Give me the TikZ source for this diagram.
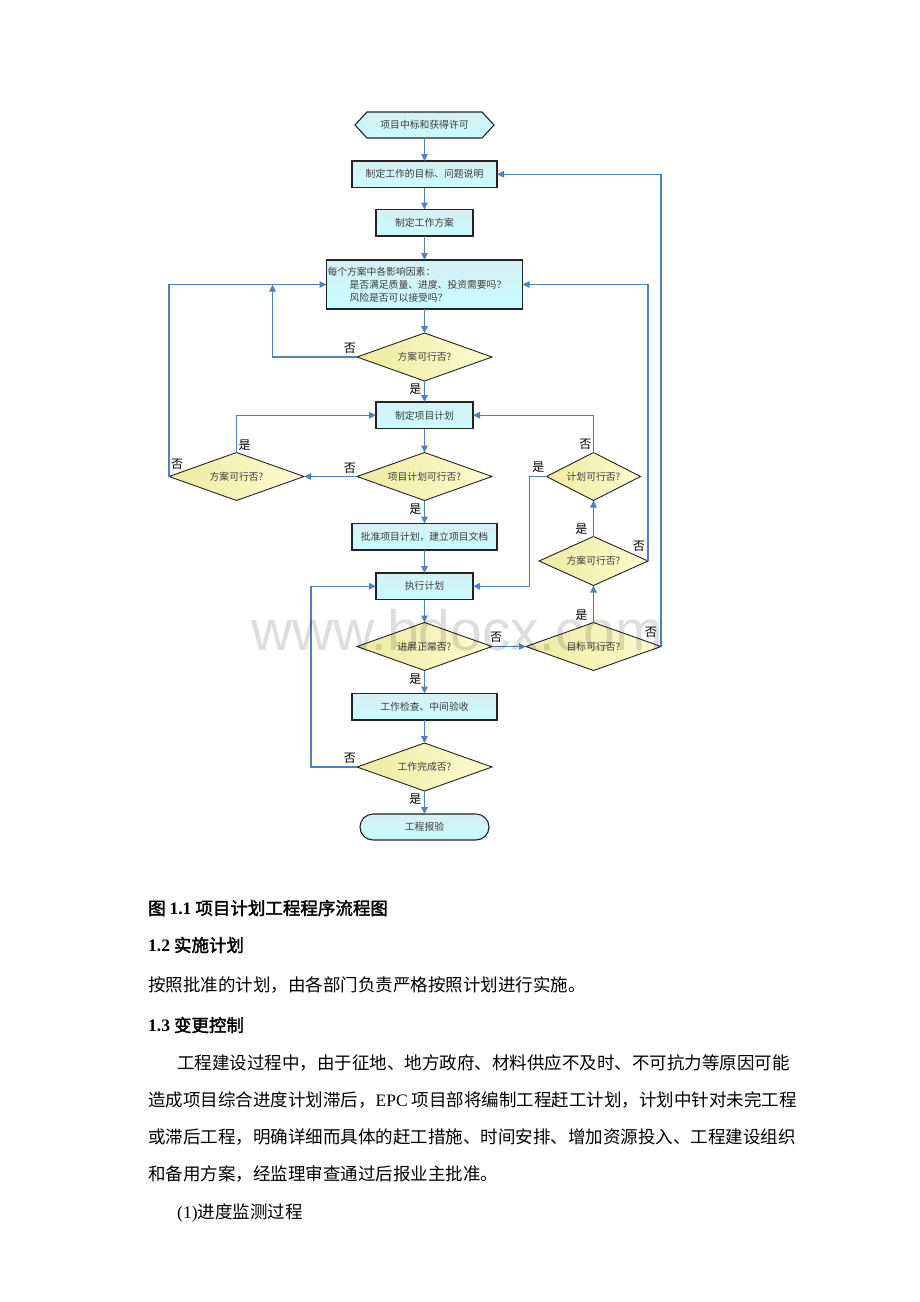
\documentclass[tikz,border=0pt]{standalone}
\usepackage{fontspec}
\setmainfont{Liberation Serif}
\newfontfamily\cjk{Noto Sans CJK SC}[AutoFakeBold=2]
\newfontfamily\wmfont{Liberation Sans}
\usepackage{tikz}
\usetikzlibrary{shapes.geometric, shapes.symbols, arrows.meta, positioning, calc}
\definecolor{myblue}{RGB}{79,129,189}
\definecolor{mydark}{RGB}{35,35,35}
\definecolor{mytext}{RGB}{60,60,60}
\definecolor{cyantop}{RGB}{214,240,244}
\definecolor{cyanbot}{RGB}{200,252,255}
\definecolor{yelleft}{RGB}{238,234,160}
\definecolor{yelright}{RGB}{252,252,208}
\tikzset{
  block/.style={rectangle, draw=mydark, top color=cyantop, bottom color=cyanbot,
    minimum height=26.5pt, inner sep=1pt, outer sep=0pt, line width=1.1pt, text=mytext,
    font=\cjk\fontsize{9.8}{13}\selectfont},
  decision/.style={diamond, draw=mydark, left color=yelleft, right color=yelright,
    aspect=2.8, minimum width=135pt, minimum height=48pt, inner sep=0pt, outer sep=0pt,
    line width=0.9pt, text=mytext, font=\cjk\fontsize{9.8}{12}\selectfont},
  hexstart/.style={signal, signal to=west and east, signal pointer angle=95,
    draw=mydark, top color=cyantop, bottom color=cyanbot, minimum width=139pt,
    minimum height=26pt, inner sep=1pt, outer sep=0pt, line width=1.1pt, text=mytext,
    font=\cjk\fontsize{9.8}{12}\selectfont},
  terminal/.style={rectangle, rounded corners=13pt, draw=mydark, top color=cyantop,
    bottom color=cyanbot, minimum width=129pt, minimum height=26pt, inner sep=1pt,
    outer sep=0pt, line width=1.1pt, text=mytext, font=\cjk\fontsize{9.8}{12}\selectfont},
  arrow/.style={-{Triangle[length=7pt,width=6.5pt]}, line width=1.1pt, color=myblue},
  yn/.style={inner sep=1pt, font=\cjk\fontsize{12}{12}\selectfont},
  para/.style={anchor=west, inner sep=0pt, font=\cjk\fontsize{17.5}{20}\selectfont}
}

\begin{document}
\begin{tikzpicture}[x=1pt, y=-1pt]
  \useasboundingbox (0,0) rectangle (920,1302);

  % Main column
  \node[hexstart] (start) at (424.5,125) {项目中标和获得许可};
  \node[block, minimum width=145pt, below=23pt of start] (goal) {制定工作的目标、问题说明};
  \node[block, minimum width=97pt, below=22pt of goal] (scheme) {制定工作方案};
  \node[block, text width=194pt, minimum height=49pt, align=left, below=24pt of scheme] (factors)
    {每个方案中各影响因素：\\\hspace*{22pt}是否满足质量、进度、投资需要吗？\\\hspace*{22pt}风险是否可以接受吗？};
  \node[decision, below=24pt of factors] (feas1) {方案可行否?};
  \node[block, minimum width=97pt, below=21pt of feas1] (projplan) {制定项目计划};
  \node[decision, below=24pt of projplan] (planok) {项目计划可行否?};
  \node[block, minimum width=145pt, below=23pt of planok] (approve) {批准项目计划，建立项目文档};
  \node[block, minimum width=97pt, below=23pt of approve] (execute) {执行计划};
  \node[decision, below=23pt of execute] (progress) {进展正常否?};
  \node[block, minimum width=145pt, below=23pt of progress] (check) {工作检查、中间验收};
  \node[decision, below=23pt of check] (done) {工作完成否?};
  \node[terminal, below=23pt of done] (finish) {工程报验};

  % Side decisions
  \node[decision, left=53pt of planok] (feas2) {方案可行否?};
  \node[decision, right=34pt of progress] (goalok) {目标可行否?};
  \node[decision, minimum width=109pt, minimum height=49pt, above=37pt of goalok] (feas3) {方案可行否?};
  \node[decision, minimum width=94pt, above=36pt of feas3] (planok2) {计划可行否?};

  % Main flow
  \draw[arrow] (start) -- (goal);
  \draw[arrow] (goal) -- (scheme);
  \draw[arrow] (scheme) -- (factors);
  \draw[arrow] (factors) -- (feas1);
  \draw[arrow] (feas1) -- (projplan);
  \draw[arrow] (projplan) -- (planok);
  \draw[arrow] (planok) -- (approve);
  \draw[arrow] (approve) -- (execute);
  \draw[arrow] (execute) -- (progress);
  \draw[arrow] (progress) -- (check);
  \draw[arrow] (check) -- (done);
  \draw[arrow] (done) -- (finish);

  % Loops back
  \coordinate (backA) at ([xshift=-54pt]factors.west);
  \coordinate (backB) at ([xshift=-17pt]planok2.west);
  \coordinate (backC) at ([xshift=-46pt]done.west);
  \draw[arrow] (feas1.west) -| (backA);
  \draw[arrow] (feas2.west) |- (factors.west);
  \draw[arrow] (feas2.north) |- (projplan.west);
  \draw[arrow] (planok.west) -- (feas2.east);
  \draw[arrow] (planok2.north) |- (projplan.east);
  \draw[arrow] (planok2.west) -- (backB) |- (execute.east);
  \draw[arrow] (feas3.north) -- (planok2.south);
  \draw[arrow] (feas3.east) |- (factors.east);
  \draw[arrow] (goalok.north) -- (feas3.south);
  \draw[arrow] (goalok.east) |- (goal.east);
  \draw[arrow] (progress.east) -- (goalok.west);
  \draw[arrow] (done.west) -- (backC) |- (execute.west);

  % Yes / no labels
  \node[yn, above left=2pt and 0pt of feas1.west] {否};
  \node[yn, below left=2pt and 2pt of feas1.south] {是};
  \node[yn, above left=2pt and 0pt of planok.west] {否};
  \node[yn, below left=2pt and 2pt of planok.south] {是};
  \node[yn, above right=1pt and 1pt of feas2.north] {是};
  \node[yn, above right=6pt and 1pt of feas2.west] {否};
  \node[yn, above left=2pt and 1pt of planok2.north] {否};
  \node[yn, above left=3pt and 1pt of planok2.west] {是};
  \node[yn, above left=1pt and 5pt of feas3.north] {是};
  \node[yn, above left=8pt and 2pt of feas3.east] {否};
  \node[yn, above left=1pt and 5pt of goalok.north] {是};
  \node[yn, above left=8pt and 3pt of goalok.east] {否};
  \node[yn, above right=3pt and -3pt of progress.east] {否};
  \node[yn, below left=2pt and 2pt of progress.south] {是};
  \node[yn, above left=2pt and 0pt of done.west] {否};
  \node[yn, below left=2pt and 2pt of done.south] {是};

  % Text below the chart
  \node[para] (caption) at (148,908) {\bfseries 图 {\rmfamily 1.1} 项目计划工程程序流程图};
  \node[para] (sec12) at (148,945) {\bfseries {\rmfamily 1.2} 实施计划};
  \node[para] (text12) at (148,985) {按照批准的计划，由各部门负责严格按照计划进行实施。};
  \node[para] (sec13) at (148,1025) {\bfseries {\rmfamily 1.3} 变更控制};
  \node[para] (lineA) at (177,1063) {工程建设过程中，由于征地、地方政府、材料供应不及时、不可抗力等原因可能};
  \node[para] (lineB) at (148,1100) {造成项目综合进度计划滞后，{\rmfamily EPC} 项目部将编制工程赶工计划，计划中针对未完工程};
  \node[para] (lineC) at (148,1137) {或滞后工程，明确详细而具体的赶工措施、时间安排、增加资源投入、工程建设组织};
  \node[para] (lineD) at (148,1174) {和备用方案，经监理审查通过后报业主批准。};
  \node[para] (item1) at (177,1213) {{\rmfamily (1)}进度监测过程};

  % Watermark
  \node[anchor=base, inner sep=0pt, text=black, text opacity=0.13,
    font=\wmfont\fontsize{57}{60}\selectfont] (mark) at (457,650) {www.bdocx.com};
\end{tikzpicture}
\end{document}
